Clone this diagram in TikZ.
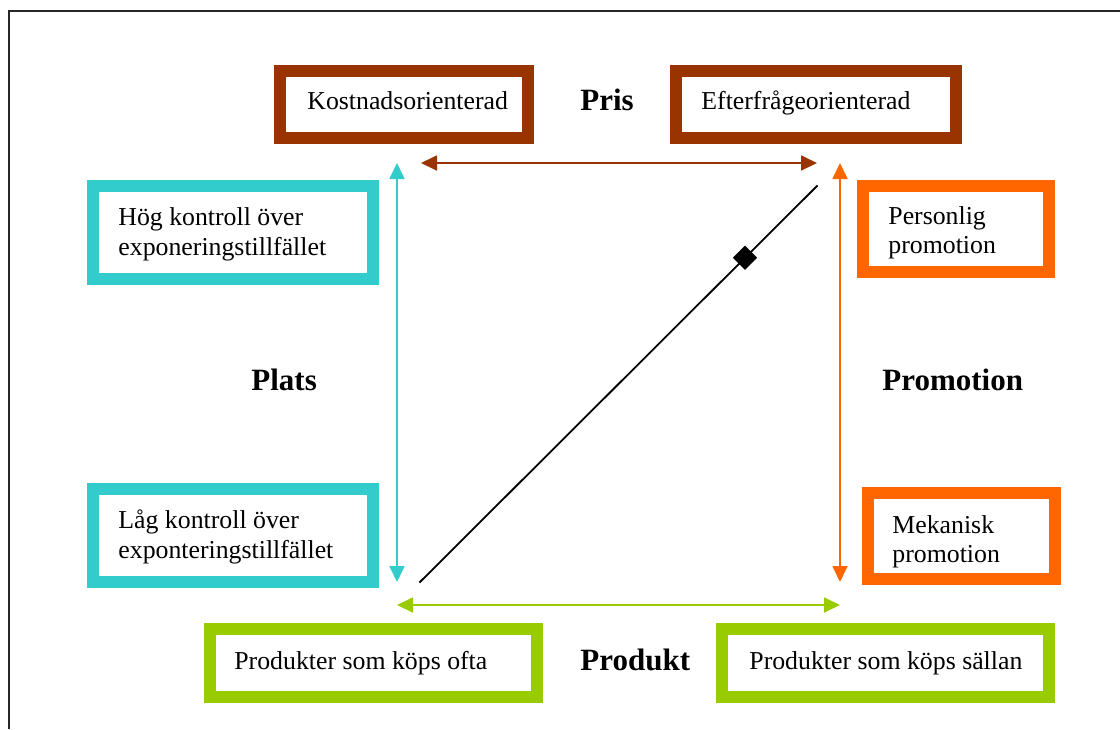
\documentclass[tikz,border=0pt]{standalone}
\usepackage{fontspec}
\setmainfont{Liberation Serif}
\usetikzlibrary{arrows.meta,fit,shapes.geometric}

\definecolor{prisc}{RGB}{153,51,0}
\definecolor{platsc}{RGB}{51,204,204}
\definecolor{promoc}{RGB}{255,102,0}
\definecolor{prodc}{RGB}{153,204,0}

\tikzset{
  framebox/.style={draw=#1, line width=6pt, fill=white, inner sep=0pt},
  txt/.style={anchor=base west, inner sep=0pt, font=\fontsize{12.9pt}{15pt}\selectfont},
  head/.style={anchor=base west, inner sep=0pt, font=\fontsize{15.5pt}{18pt}\selectfont\bfseries},
  axis/.style={draw=#1, line width=0.9pt, {Triangle[length=8pt,width=7.5pt]}-{Triangle[length=8pt,width=7.5pt]}},
  diag/.style={draw=black, line width=0.9pt},
  marker/.style={diamond, fill=black, inner sep=0pt, minimum width=12.5pt, minimum height=12.5pt}
}

\begin{document}
\begin{tikzpicture}[x=0.5pt, y=-0.5pt]
  \useasboundingbox (0,0) rectangle (1120,729);

  % outer frame: top and left edges only
  \draw[line width=1pt, black!85] (8.5,729) -- (8.5,11) -- (1120,11);

  % Pris
  \node[framebox=prisc, fit={(280,71) (528,138)}] (kost) {};
  \node[framebox=prisc, fit={(676,71) (956,138)}] (efter) {};
  \node[txt] (kostt) at (307,109) {Kostnadsorienterad};
  \node[txt] (eftert) at (701,109) {Efterfrågeorienterad};
  \node[head] (pris) at (580,110) {Pris};

  % Plats
  \node[framebox=platsc, fit={(93,186) (373,279)}] (hog) {};
  \node[framebox=platsc, fit={(93,489) (373,582)}] (lag) {};
  \node[txt] (hog1) at (118,225) {Hög kontroll över};
  \node[txt] (hog2) at (118,255) {exponeringstillfället};
  \node[txt] (lag1) at (118,528) {Låg kontroll över};
  \node[txt] (lag2) at (118,558) {exponteringstillfället};
  \node[head] (plats) at (251,390) {Plats};

  % Promotion
  \node[framebox=promoc, fit={(863,186) (1049,272)}] (pers) {};
  \node[framebox=promoc, fit={(868,493) (1055,579)}] (mek) {};
  \node[txt] (pers1) at (888,224) {Personlig};
  \node[txt] (pers2) at (888,253.5) {promotion};
  \node[txt] (mek1) at (892,533) {Mekanisk};
  \node[txt] (mek2) at (892,562) {promotion};
  \node[head] (promo) at (882,390) {Promotion};

  % Produkt
  \node[framebox=prodc, fit={(210,629) (537,697)}] (ofta) {};
  \node[framebox=prodc, fit={(722,629) (1049,697)}] (sallan) {};
  \node[txt] (oftat) at (234,669) {Produkter som köps ofta};
  \node[txt] (sallant) at (749,669) {Produkter som köps sällan};
  \node[head] (prod) at (580,670) {Produkt};

  % axis end points
  \coordinate (pL) at (421,163);
  \coordinate (pR) at (817,163);
  \coordinate (lT) at (397,163);
  \coordinate (lB) at (397,582);
  \coordinate (mT) at (840,163);
  \coordinate (mB) at (840,582);
  \coordinate (dL) at (397,605);
  \coordinate (dR) at (840,605);
  \coordinate (gA) at (419.5,582.5);
  \coordinate (gB) at (817.5,185.5);

  % axes
  \draw[axis=prisc] (pL) -- (pR);
  \draw[axis=platsc] (lT) -- (lB);
  \draw[axis=promoc] (mT) -- (mB);
  \draw[axis=prodc] (dL) -- (dR);

  % diagonal with marker
  \draw[diag] (gA) -- (gB) node[marker, pos=0.818] (mark) {};
\end{tikzpicture}
\end{document}
